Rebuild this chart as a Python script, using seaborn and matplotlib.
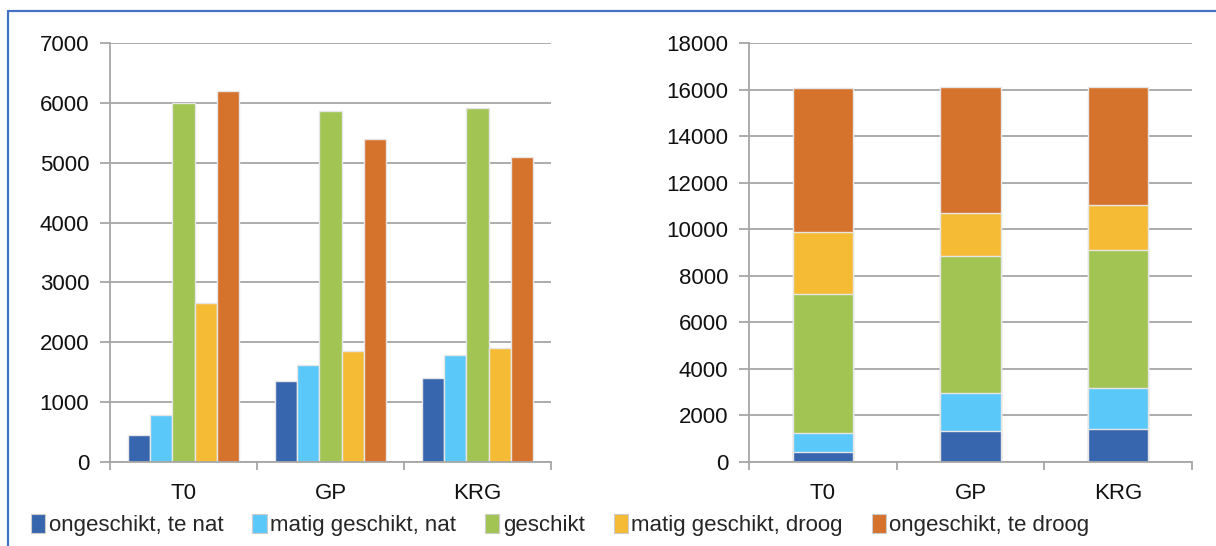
import numpy as np
import pandas as pd
import matplotlib
matplotlib.use("Agg")
import matplotlib.pyplot as plt
import seaborn as sns
from matplotlib.patches import Patch
from matplotlib.lines import Line2D

# scenario's en geschiktheidsklassen
scenarios = ["T0", "GP", "KRG"]
klassen = ["ongeschikt, te nat", "matig geschikt, nat", "geschikt",
           "matig geschikt, droog", "ongeschikt, te droog"]

te_nat = [450, 1350, 1400]
matig_nat = [790, 1620, 1790]
geschikt = [5990, 5860, 5920]
matig_droog = [2650, 1860, 1910]
te_droog = [6190, 5400, 5090]

kleuren = ["#3866ae", "#5bc8fa", "#a1c453", "#f6bb35", "#d5722c"]

series = [te_nat, matig_nat, geschikt, matig_droog, te_droog]
df = pd.DataFrame({
    "scenario": np.tile(scenarios, len(klassen)),
    "klasse": np.repeat(klassen, len(scenarios)),
    "opp": np.concatenate(series),
})

sns.set_style("white")
plt.rcParams['font.family'] = ['Liberation Sans Narrow', 'Liberation Sans', 'DejaVu Sans']
fs = 16
grid_c = "#a6a6a6"

fig = plt.figure(figsize=(12.16, 5.46), dpi=100)
ax1 = fig.add_axes([110/1216, 84/546, 441/1216, 419/546])
ax2 = fig.add_axes([749/1216, 84/546, 443/1216, 419/546])

# links: geclusterde staven
sns.barplot(data=df, x="scenario", y="opp", hue="klasse", order=scenarios,
            hue_order=klassen, palette=kleuren, width=0.75, saturation=1,
            edgecolor="#e6e6e6", linewidth=1, legend=False, ax=ax1)

# rechts: gestapelde staven (cumulatief, van boven naar beneden)
cum = np.cumsum(np.array(series), axis=0)
for i in reversed(range(len(klassen))):
    sns.barplot(x=scenarios, y=cum[i], order=scenarios, color=kleuren[i],
                width=0.41, saturation=1, edgecolor="#e6e6e6", linewidth=1,
                ax=ax2)

for ax, top, step in [(ax1, 7000, 1000), (ax2, 18000, 2000)]:
    ax.set_ylim(0, top)
    ax.set_xlim(-0.5, 2.5)
    ax.set_yticks(np.arange(0, top + 1, step))
    ax.set_xlabel("")
    ax.set_ylabel("")
    ax.set_axisbelow(True)
    ax.yaxis.grid(True, color=grid_c, linewidth=1.3)
    ax.xaxis.grid(False)
    for s in ["top", "right"]:
        ax.spines[s].set_visible(False)
    for s in ["left", "bottom"]:
        ax.spines[s].set_color(grid_c)
        ax.spines[s].set_linewidth(1.3)
    ax.tick_params(axis="y", left=True, length=7, width=1.3, color=grid_c,
                   pad=8, labelsize=fs, labelcolor="#111111")
    ax.tick_params(axis="x", which="major", length=0, pad=15, labelsize=fs,
                   labelcolor="#111111")
    ax.set_xticks([-0.5, 0.5, 1.5, 2.5], minor=True)
    ax.tick_params(axis="x", which="minor", bottom=True, length=6, width=1.3,
                   color=grid_c)

handles = [Patch(facecolor=c, edgecolor="#cccccc", linewidth=0.8) for c in kleuren]
fig.legend(handles, klassen, loc="center left", bbox_to_anchor=(31/1216, 1 - 525/546),
           ncol=5, frameon=False, fontsize=fs, handlelength=0.65, handleheight=0.9,
           handletextpad=0.15, columnspacing=1.3, borderaxespad=0, borderpad=0)

# blauwe kaderlijn boven en links
fig.add_artist(Line2D([7.5/1216, 1], [1 - 10.5/546, 1 - 10.5/546],
                      transform=fig.transFigure, color="#4472c4", linewidth=1.6))
fig.add_artist(Line2D([7.5/1216, 7.5/1216], [0, 1 - 10.5/546],
                      transform=fig.transFigure, color="#4472c4", linewidth=1.6))

fig.savefig("out.png", dpi=100)
